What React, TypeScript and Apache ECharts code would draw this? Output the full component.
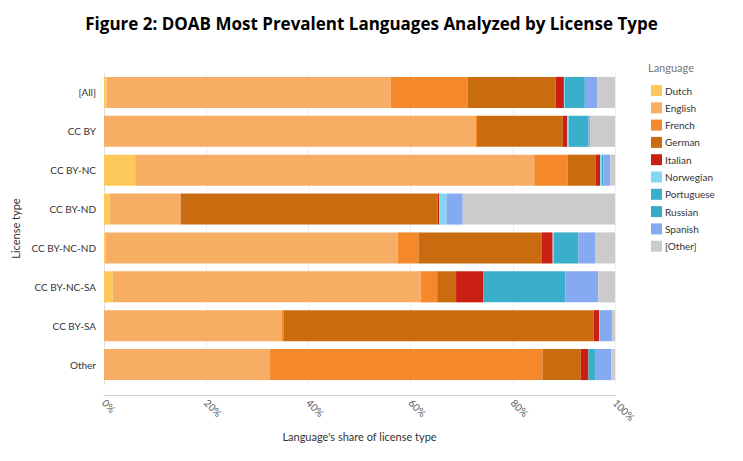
import React, { useEffect, useRef } from 'react';
import * as echarts from 'echarts';

const licenseTypes = ['[All]', 'CC BY', 'CC BY-NC', 'CC BY-ND', 'CC BY-NC-ND', 'CC BY-NC-SA', 'CC BY-SA', 'Other'];
const languages = ['Dutch', 'English', 'French', 'German', 'Italian', 'Norwegian', 'Portuguese', 'Russian', 'Spanish', '[Other]'];
const colors = ['#fcc95a', '#f8ad64', '#f5882a', '#c96c10', '#cb1f14', '#7fd9f3', '#3aafca', '#36a8c8', '#86aaf2', '#cbcbcb'];

// share (%) per language, one value per license type
const dutch = [0.5, 0, 6.1, 1.1, 0.3, 1.7, 0, 0];
const english = [55.6, 72.7, 78.1, 13.9, 57.2, 60.3, 34.8, 32.5];
const french = [15.1, 0.3, 6.5, 0, 4.1, 3.2, 0.3, 53.3];
const german = [17.2, 16.8, 5.5, 50.3, 24.0, 3.7, 60.7, 7.5];
const italian = [1.6, 0.8, 0.9, 0.3, 2.2, 5.3, 1.1, 1.5];
const norwegian = [0.2, 0.4, 0.3, 1.4, 0.2, 0, 0.1, 0];
const portuguese = [3.9, 3.8, 0.3, 0, 4.8, 16.1, 0, 1.3];
const russian = [0, 0, 0, 0, 0, 0, 0, 0];
const spanish = [2.4, 0.3, 1.4, 3.2, 3.3, 6.4, 2.4, 3.2];
const other = [3.5, 5.2, 0.9, 29.8, 3.9, 3.3, 0.7, 0.7];

const seriesValues = [dutch, english, french, german, italian, norwegian, portuguese, russian, spanish, other];

const FONT = 'Lato, "Open Sans", sans-serif';

const App: React.FC = () => {
  const chartRef = useRef<HTMLDivElement>(null);

  useEffect(() => {
    document.body.style.margin = '0';
    if (!chartRef.current) return;
    const chart = echarts.init(chartRef.current, undefined, { renderer: 'svg' });

    chart.setOption({
      animation: false,
      textStyle: { fontFamily: FONT },
      title: {
        text: 'Figure 2: DOAB Most Prevalent Languages Analyzed by License Type',
        left: 'center',
        top: 10,
        textStyle: { fontFamily: '"Open Sans", sans-serif', fontWeight: 'bold', fontSize: 17, color: '#000' },
      },
      graphic: [
        { type: 'text', left: 648, top: 62, style: { text: 'Language', fontFamily: FONT, fontSize: 11, fill: '#777' } },
      ],
      legend: {
        orient: 'vertical',
        left: 646,
        top: 80,
        itemWidth: 11,
        itemHeight: 11,
        itemGap: 6.3,
        icon: 'rect',
        textStyle: { fontSize: 10, color: '#333', padding: [0, 0, 0, -2] },
        data: languages,
      },
      grid: { left: 104, right: 128, top: 73, bottom: 77 },
      xAxis: {
        type: 'value',
        min: 0,
        max: 100,
        interval: 20,
        offset: 11,
        name: "Language's share of license type",
        nameLocation: 'middle',
        nameGap: 36,
        nameTextStyle: { fontSize: 11, color: '#333' },
        axisLine: { show: true, lineStyle: { color: '#ccc' } },
        axisLabel: { formatter: '{value}%', rotate: -45, fontSize: 10, color: '#555', margin: 6 },
        splitLine: { lineStyle: { color: '#eee' } },
      },
      yAxis: {
        type: 'category',
        data: licenseTypes,
        inverse: true,
        name: 'License type',
        nameLocation: 'middle',
        nameGap: 68,
        nameTextStyle: { fontSize: 11, color: '#333' },
        axisLine: { lineStyle: { color: '#ddd' } },
        axisTick: { show: false },
        axisLabel: { fontSize: 10, color: '#333', margin: 8 },
      },
      series: languages.map((name, i) => ({
        name,
        type: 'bar',
        stack: 'total',
        barWidth: '80%',
        itemStyle: { color: colors[i] },
        data: seriesValues[i],
      })),
    });

    return () => {
      chart.dispose();
    };
  }, []);

  return <div ref={chartRef} style={{ width: '743px', height: '461px' }}></div>;
};

export default App;
